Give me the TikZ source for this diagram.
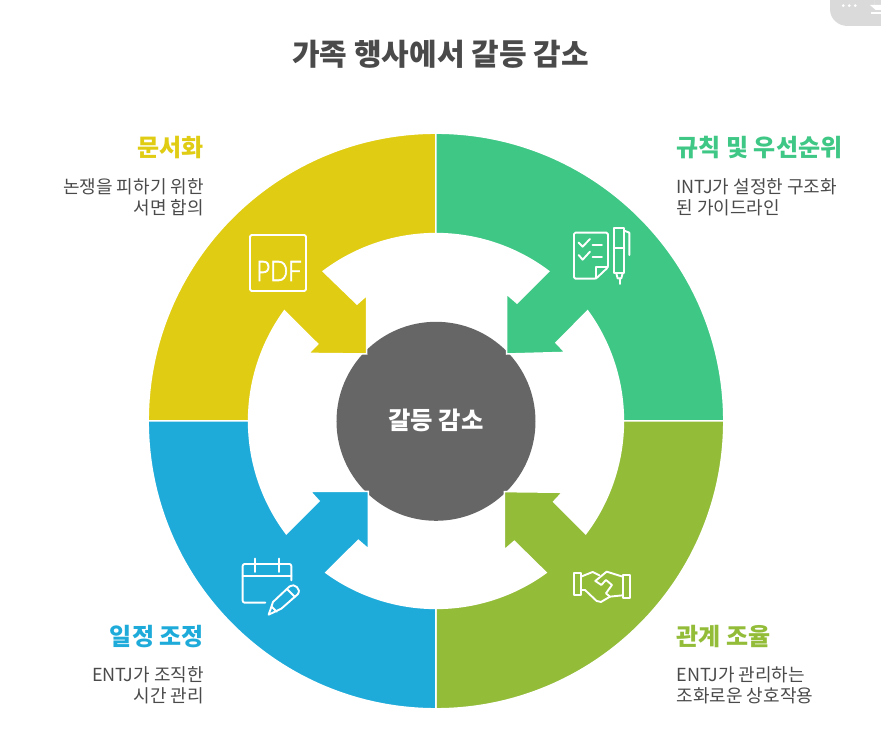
\documentclass[tikz,border=0pt]{standalone}
\usepackage{fontspec}
\setmainfont{Noto Sans CJK KR}
\newfontfamily\pdffont[FakeBold=2.5]{Lato Light}
\definecolor{cyellow}{HTML}{E0CC13}
\definecolor{cgreen}{HTML}{3EC785}
\definecolor{clime}{HTML}{93BC39}
\definecolor{cblue}{HTML}{1EABDA}
\definecolor{cgrey}{HTML}{666666}
\definecolor{ctext}{HTML}{4A4A4A}
\definecolor{cbtn}{HTML}{DADADA}
\tikzset{
  x=1pt,y=1pt,
  wedge/.style={draw=white,line width=1.5pt,line join=miter},
  icon/.style={draw=white,line width=1.9pt,line cap=round,line join=round},
  titletxt/.style={font=\fontsize{30}{34}\selectfont\bfseries,text=ctext},
  headr/.style={anchor=west,inner sep=0pt,font=\fontsize{24}{28}\selectfont\bfseries},
  headl/.style={anchor=east,inner sep=0pt,font=\fontsize{24}{28}\selectfont\bfseries},
  descr/.style={anchor=north west,align=left,text=ctext,font=\fontsize{18}{21}\selectfont,inner sep=0pt},
  descl/.style={anchor=north east,align=right,text=ctext,font=\fontsize{18}{21}\selectfont,inner sep=0pt},
}
\begin{document}
\begin{tikzpicture}
% origin at the diagram centre (436,421 px), y up
\useasboundingbox (-436,-312) rectangle (445,421);
% corner button
\fill[cbtn] (445,421) -- (394,421) -- (394,412) .. controls (394,402) and (402,395) .. (412,395) -- (445,395) -- cycle;
\fill[white] (407.3,415.3) circle (1.5) (413.3,415.3) circle (1.5) (419.3,415.3) circle (1.5);
\fill[white] (438,421) -- (438,416) -- (442,416) -- (445,416) -- (445,411) -- (439.7,411) -- (434,416) -- (438,416) -- cycle;
\fill[white] (434.7,409) rectangle (445,407);
% hub
\node[circle,fill=cgrey,minimum size=199pt,inner sep=0pt] (hub) at (0,-0.3) {};
\node[font=\fontsize{24.3}{28}\selectfont\bfseries,text=white] (hubtxt) at (0,1) {갈등 감소};
% wedges
\fill[cyellow,wedge] (180:287.8) arc[start angle=180,end angle=90,radius=287.8] -- (90:187.4) arc[start angle=90,end angle=127,radius=187.4] -- (-79,117) -- (-69.3,125.6) -- (-69.3,67) -- (-127.5,67.6) -- (-118.3,77) -- (144:187.4) arc[start angle=144,end angle=180,radius=187.4] -- cycle;
\fill[cgreen,wedge] (90:287.8) arc[start angle=90,end angle=0,radius=287.8] -- (0:187.4) arc[start angle=0,end angle=36,radius=187.4] -- (120,78.3) -- (129.2,68.6) -- (70.6,67) -- (70.6,127) -- (81,118) -- (53:187.4) arc[start angle=53,end angle=90,radius=187.4] -- cycle;
\fill[clime,wedge] (0:287.8) arc[start angle=0,end angle=-90,radius=287.8] -- (-90:187.4) arc[start angle=-90,end angle=-54,radius=187.4] -- (78.3,-120.3) -- (68.3,-129) -- (68.3,-70.6) -- (126.5,-71.3) -- (117.7,-80.7) -- (-37:187.4) arc[start angle=-37,end angle=0,radius=187.4] -- cycle;
\fill[cblue,wedge] (-90:287.8) arc[start angle=-90,end angle=-180,radius=287.8] -- (180:187.4) arc[start angle=180,end angle=217,radius=187.4] -- (-117,-80) -- (-125.8,-70.3) -- (-67.6,-70.3) -- (-67.6,-128) -- (-77.7,-119.3) -- (234:187.4) arc[start angle=234,end angle=270,radius=187.4] -- cycle;
% title
\node[titletxt] (title) at (4.5,367) {가족 행사에서 갈등 감소};
% labels
\node[headl,text=cyellow] (h1) at (-232,273) {문서화};
\node[descl] (d1) at (-232,243) {논쟁을 피하기 위한\\서면 합의};
\node[headr,text=cgreen] (h2) at (240.5,273) {규칙 및 우선순위};
\node[descr] (d2) at (240.5,243) {INTJ가 설정한 구조화\\된 가이드라인};
\node[headr,text=clime] (h3) at (240.5,-216) {관계 조율};
\node[descr] (d3) at (240.5,-245) {ENTJ가 관리하는\\조화로운 상호작용};
\node[headl,text=cblue] (h4) at (-232,-216) {일정 조정};
\node[descl] (d4) at (-232,-245) {ENTJ가 조직한\\시간 관리};
% PDF icon
\draw[icon,rounded corners=1.5pt] (-186,186) rectangle (-130,130);
\node[text=white,font=\pdffont\fontsize{28}{28}\selectfont,xscale=.85,inner sep=0pt] (pdf) at (-157,150) {PDF};
% checklist and pen icon
\begin{scope}[shift={(0,211)},x=.3333pt,y=-.3333pt]
  \draw[icon,rounded corners=1.5pt] (480,206) -- (414,206) -- (414,68) -- (516,68) -- (516,172) -- cycle;
  \draw[icon] (480,206) -- (480,172) -- (516,172);
  \draw[icon] (428,98) -- (440,110) -- (462,87);
  \draw[icon] (428,135) -- (440,149) -- (462,125);
  \draw[icon] (470,104) -- (498,104);
  \draw[icon] (470,141) -- (498,141);
  \draw[icon] (535,53) rectangle (565,190);
  \draw[icon] (535,113) -- (565,113);
  \draw[icon] (565,62) -- (580,68) -- (580,135);
  \draw[icon] (541,190) -- (545,205) -- (556,205) -- (560,190);
  \draw[icon] (551,205) -- (551,222);
\end{scope}
% handshake icon
\begin{scope}[shift={(0,1)},x=.3333pt,y=-.3333pt]
  \draw[icon] (414,458) rectangle (435,525);
  \draw[icon] (560,465) rectangle (582,533);
  \draw[icon] (435,470) -- (470,456) -- (490,466);
  \draw[icon] (560,470) -- (512,455) -- (478,483) -- (496,495) -- (510,480) -- (528,495) -- (510,520) -- (522,530) -- (560,526);
  \draw[icon] (435,510) -- (447,510) -- (482,543) -- (495,546) -- (522,530);
\end{scope}
% calendar and pencil icon
\begin{scope}[shift={(-198,-131)},x=.3333pt,y=-.3333pt]
  \draw[icon,rounded corners=2pt] (160,85) -- (160,36) -- (14,36) -- (14,152) -- (82,152);
  \draw[icon] (14,72) -- (160,72);
  \draw[icon] (51,20) -- (51,60);
  \draw[icon] (122,20) -- (122,60);
  \draw[icon] (92,188) -- (105,150) -- (155,103) .. controls (168,92) and (192,112) .. (179,127) -- (130,170) -- cycle;
  \draw[icon] (101,164) -- (116,179);
  \draw[icon] (147,111) -- (171,135);
\end{scope}
\end{tikzpicture}
\end{document}
